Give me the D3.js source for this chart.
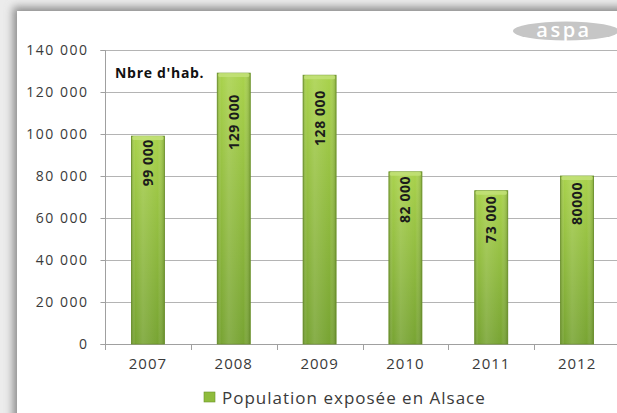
<!DOCTYPE html>
<html>
<head>
<meta charset="utf-8">
<script src="https://cdn.jsdelivr.net/npm/d3@7"></script>
<style>
  html, body { margin: 0; padding: 0; background: #ffffff; }
  svg { display: block; }
</style>
</head>
<body>
<svg id="chart" width="617" height="413"></svg>
<script>
// Population exposed, Alsace, by year
const years = ["2007", "2008", "2009", "2010", "2011", "2012"];
const population = [99000, 129000, 128000, 82000, 73000, 80000];
const valueLabels = ["99 000", "129 000", "128 000", "82 000", "73 000", "80000"];
const yTicks = [0, 20000, 40000, 60000, 80000, 100000, 120000, 140000];
const yTickLabels = ["0", "20 000", "40 000", "60 000", "80 000", "100 000", "120 000", "140 000"];
const seriesName = "Population exposée en Alsace";
const unitLabel = "Nbre d'hab.";

const W = 617, H = 413;
const font = "'Open Sans', 'DejaVu Sans', sans-serif";
const plot = { left: 105, right: 620, top: 50, bottom: 344 };

const svg = d3.select("#chart");
const defs = svg.append("defs");

// soft drop shadow behind the white panel
defs.append("filter").attr("id", "panelShadow")
  .attr("x", "-10%").attr("y", "-10%").attr("width", "120%").attr("height", "120%")
  .append("feGaussianBlur").attr("stdDeviation", 4);

// vertical tone of the bars
const gv = defs.append("linearGradient").attr("id", "barV")
  .attr("x1", 0).attr("y1", 0).attr("x2", 0).attr("y2", 1);
gv.append("stop").attr("offset", "0%").attr("stop-color", "#a9d24c");
gv.append("stop").attr("offset", "100%").attr("stop-color", "#78a433");

// horizontal shading gives the bars a rounded look
const gh = defs.append("linearGradient").attr("id", "barH")
  .attr("x1", 0).attr("y1", 0).attr("x2", 1).attr("y2", 0);
gh.append("stop").attr("offset", "0%").attr("stop-color", "#3f5e12").attr("stop-opacity", 0.35);
gh.append("stop").attr("offset", "12%").attr("stop-color", "#ffffff").attr("stop-opacity", 0.0);
gh.append("stop").attr("offset", "35%").attr("stop-color", "#ffffff").attr("stop-opacity", 0.12);
gh.append("stop").attr("offset", "80%").attr("stop-color", "#ffffff").attr("stop-opacity", 0.0);
gh.append("stop").attr("offset", "100%").attr("stop-color", "#3f5e12").attr("stop-opacity", 0.35);

// background and panel
svg.append("rect").attr("width", W).attr("height", H).attr("fill", "#ececec");
svg.append("rect").attr("x", 13).attr("y", 7).attr("width", W + 20).attr("height", H + 20)
  .attr("fill", "#8c8c8c").attr("filter", "url(#panelShadow)");
svg.append("rect").attr("x", 17).attr("y", 11).attr("width", W).attr("height", H)
  .attr("fill", "#ffffff");

// scales
const x = d3.scaleBand().domain(years).range([plot.left, plot.right])
  .paddingInner(0.615).paddingOuter(0.3075);
const y = d3.scaleLinear().domain([0, 140000]).range([plot.bottom, plot.top]);

// horizontal gridlines
svg.append("g").selectAll("line").data(yTicks.slice(1)).join("line")
  .attr("x1", plot.left).attr("x2", W)
  .attr("y1", d => Math.round(y(d)) + 0.5).attr("y2", d => Math.round(y(d)) + 0.5)
  .attr("stroke", "#b4b4b4").attr("stroke-width", 1.2);

// y axis
const yAxis = svg.append("g").attr("transform", `translate(${plot.left + 0.5},0)`)
  .call(d3.axisLeft(y).tickValues(yTicks)
    .tickFormat((d, i) => yTickLabels[i]).tickSize(5).tickPadding(12));
yAxis.select(".domain").attr("stroke", "#a0a0a0").attr("d", `M-5,${plot.top + 0.5}H0V${plot.bottom + 0.5}H-5`);
yAxis.selectAll(".tick line").attr("stroke", "#a0a0a0");
yAxis.selectAll(".tick text").attr("fill", "#3a3a3a")
  .style("font-family", font).style("font-size", "14px").style("letter-spacing", "1.5px");

// x axis
const xAxis = svg.append("g").attr("transform", `translate(0,${plot.bottom + 0.5})`)
  .call(d3.axisBottom(x).tickSize(0).tickPadding(14));
xAxis.select(".domain").attr("stroke", "#a0a0a0").attr("d", `M${plot.left},0H${W}`);
xAxis.selectAll(".tick text").attr("fill", "#3a3a3a")
  .style("font-family", font).style("font-size", "15px").style("letter-spacing", "1px");
// category separators below the axis
const step = x.step();
svg.append("g").selectAll("line").data(d3.range(years.length + 1)).join("line")
  .attr("x1", i => Math.round(plot.left + i * step) + 0.5)
  .attr("x2", i => Math.round(plot.left + i * step) + 0.5)
  .attr("y1", plot.bottom).attr("y2", plot.bottom + 6)
  .attr("stroke", "#a0a0a0");

// bars
const bars = svg.append("g").selectAll("g").data(years).join("g");
bars.append("rect")
  .attr("x", d => x(d)).attr("width", x.bandwidth())
  .attr("y", (d, i) => y(population[i]))
  .attr("height", (d, i) => y(0) - y(population[i]))
  .attr("fill", "url(#barV)")
  .attr("stroke", "#6c9329").attr("stroke-width", 0.8);
bars.append("rect")
  .attr("x", d => x(d)).attr("width", x.bandwidth())
  .attr("y", (d, i) => y(population[i]))
  .attr("height", (d, i) => y(0) - y(population[i]))
  .attr("fill", "url(#barH)");
// bevelled cap
bars.append("rect")
  .attr("x", d => x(d) + 1).attr("width", x.bandwidth() - 2)
  .attr("y", (d, i) => y(population[i]))
  .attr("height", 4).attr("rx", 1.5)
  .attr("fill", "#c4e27a").attr("opacity", 0.8);

// value labels, rotated inside the bars
const labelDrop = [3, 21, 15, 4, 5, 6];
bars.append("text")
  .attr("transform", (d, i) =>
    `translate(${x(d) + x.bandwidth() / 2 + 5},${y(population[i]) + labelDrop[i]}) rotate(-90)`)
  .attr("text-anchor", "end")
  .style("font-family", font).style("font-size", "14px").style("font-weight", "bold")
  .style("letter-spacing", "0.6px")
  .attr("fill", "#1b1b1b")
  .text((d, i) => valueLabels[i]);

// unit caption
svg.append("text").attr("x", 115).attr("y", 78)
  .style("font-family", font).style("font-size", "14px").style("font-weight", "bold")
  .style("letter-spacing", "0.7px")
  .attr("fill", "#111").text(unitLabel);

// legend
const legend = svg.append("g");
legend.append("rect").attr("x", 204).attr("y", 392).attr("width", 11).attr("height", 10)
  .attr("fill", "#8fbc3c").attr("stroke", "#6c9329").attr("stroke-width", 0.6);
legend.append("text").attr("x", 222).attr("y", 404)
  .style("font-family", font).style("font-size", "17px").style("letter-spacing", "1px")
  .attr("fill", "#3a3a3a").text(seriesName);

// logo badge
const logo = svg.append("g");
logo.append("ellipse").attr("cx", 566).attr("cy", 31).attr("rx", 53).attr("ry", 9.5)
  .attr("fill", "#c6c6c6");
logo.append("text").attr("x", 564).attr("y", 37).attr("text-anchor", "middle")
  .style("font-family", font).style("font-size", "20px").style("letter-spacing", "2.5px")
  .style("font-weight", "600")
  .attr("fill", "#ffffff").text("aspa");
</script>
</body>
</html>
